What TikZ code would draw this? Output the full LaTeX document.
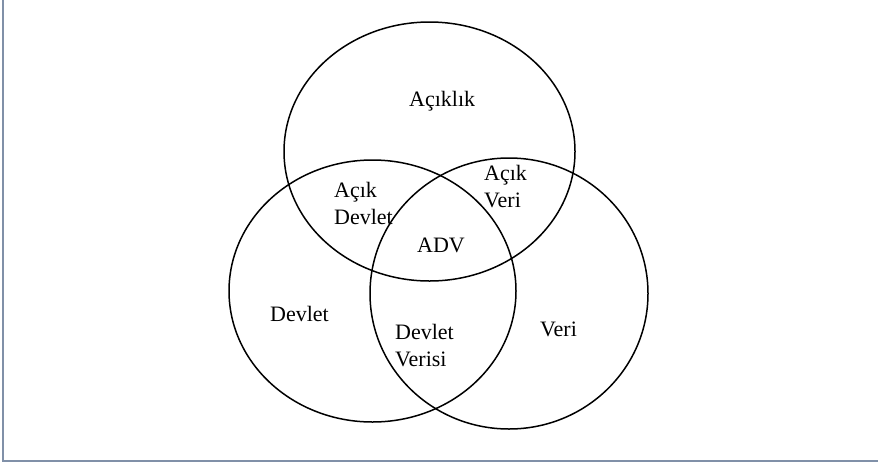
\documentclass[tikz,border=0pt]{standalone}
\usepackage{fontspec}
\setmainfont{Liberation Serif}
\definecolor{framegray}{RGB}{128,144,168}

\begin{document}
\begin{tikzpicture}[
			x=1pt,
			y=-1pt,
			set/.style={
					draw=black,
					line width=1.5pt
				},
			every node/.style={
					inner sep=0pt,
					align=left,
					font=\fontsize{22}{27}\selectfont
				}
		]

		\useasboundingbox (0,0) rectangle (878,464);

		% frame
		\draw[framegray,line width=2pt] (3,0) -- (3,461) -- (878,461);

		% sets
		\draw[set] (429.5,151.5) ellipse [x radius=145.5, y radius=129.5];
		\draw[set] (372.5,291) ellipse [x radius=143.5, y radius=131];
		\draw[set] (509,293.5) ellipse [x radius=139, y radius=135.5];

		% labels
		\node (open) [anchor=base west] at (409,106) {Açıklık};
		\node (opengov) [anchor=north west] at (334,182) {Açık\\Devlet};
		\node (opendata) [anchor=north west] at (484,165) {Açık\\Veri};
		\node (ogd) [anchor=base west] at (417,252) {ADV};
		\node (gov) [anchor=base west] at (270,321) {Devlet};
		\node (govdata) [anchor=north west] at (395,324) {Devlet\\Verisi};
		\node (data) [anchor=base west] at (540,336) {Veri};

	\end{tikzpicture}
\end{document}
